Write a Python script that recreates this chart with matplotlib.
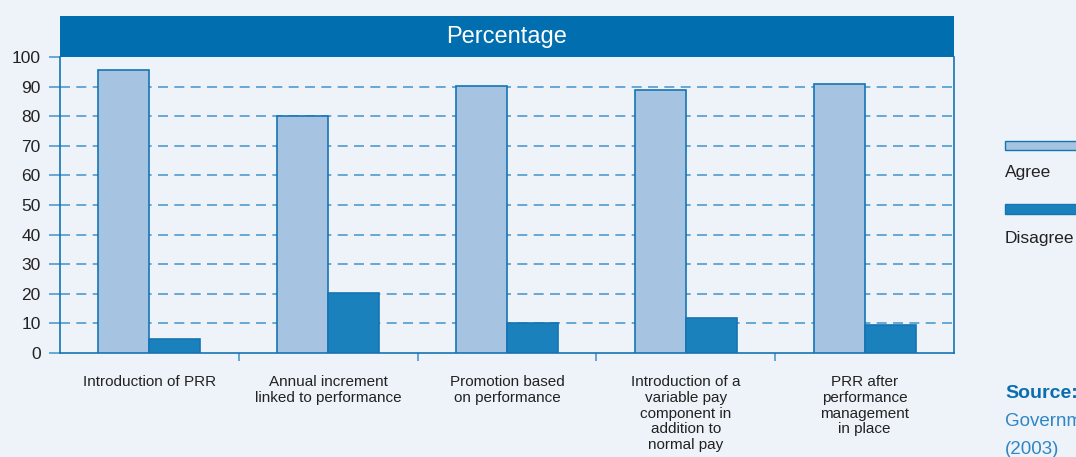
import numpy as np
import matplotlib.pyplot as plt
from matplotlib.patches import Rectangle

plt.rcParams['font.family'] = ['Liberation Sans', 'DejaVu Sans']

categories = [
    'Introduction of PRR',
    'Annual increment\nlinked to performance',
    'Promotion based\non performance',
    'Introduction of a\nvariable pay\ncomponent in\naddition to\nnormal pay',
    'PRR after\nperformance\nmanagement\nin place',
]
agree = [95.6, 80.0, 90.2, 88.7, 91.0]
disagree = [4.7, 20.2, 10.0, 11.7, 9.5]

BG = '#EEF3F9'
LIGHT = '#A6C4E1'
DARK = '#1B81BC'
EDGE = '#1674B3'
HEADER = '#006EAF'
GRID = '#4F9BD0'

fig = plt.figure(figsize=(10.76, 4.57), dpi=100, facecolor=BG)
ax = fig.add_axes([60 / 1076, 1 - 353 / 457, 894 / 1076, 296 / 457])
ax.set_facecolor(BG)

x = np.arange(len(categories)) + 0.5
w = 0.285
ax.bar(x - w / 2, agree, w, color=LIGHT, edgecolor=EDGE, linewidth=1.2, zorder=3)
ax.bar(x + w / 2, disagree, w, color=DARK, edgecolor=EDGE, linewidth=1.2, zorder=3)

ax.set_xlim(0, len(categories))
ax.set_ylim(0, 100)
ax.set_yticks(np.arange(0, 101, 10))
for v in range(10, 100, 10):
    ax.axhline(v, color=GRID, linewidth=1.2, dashes=(6, 3.8), zorder=1)

ax.set_xticks(x)
ax.set_xticklabels(categories, fontsize=11, color='#222222', linespacing=1.15,
                   va='top')
ax.set_xticks(np.arange(1, len(categories)), minor=True)
ax.tick_params(axis='x', which='major', length=0, pad=16)
ax.tick_params(axis='x', which='minor', length=6, color='#4A9AD0', width=1.2)
ax.tick_params(axis='y', length=8, color=GRID, width=1.2, pad=6,
               labelsize=12.5, labelcolor='#222222')

for s in ['left', 'bottom', 'right']:
    ax.spines[s].set_color(EDGE)
    ax.spines[s].set_linewidth(1.2)
ax.spines['top'].set_visible(False)

# header band
hx = fig.add_axes([60 / 1076, 1 - 57 / 457, 894 / 1076, 41 / 457])
hx.set_facecolor(HEADER)
hx.set_xticks([])
hx.set_yticks([])
for s in hx.spines.values():
    s.set_visible(False)
hx.text(0.5, 0.5, 'Percentage', color='white', fontsize=17,
        ha='center', va='center', transform=hx.transAxes)

# legend at the right edge
fig.patches.append(Rectangle((1005 / 1076, 1 - 150 / 457), 80 / 1076, 9 / 457,
                             transform=fig.transFigure, facecolor=LIGHT,
                             edgecolor=EDGE, linewidth=1.0))
fig.text(1005 / 1076, 1 - 173 / 457, 'Agree', fontsize=12.5, color='#222222',
         va='center', ha='left')
fig.patches.append(Rectangle((1005 / 1076, 1 - 214 / 457), 80 / 1076, 10 / 457,
                             transform=fig.transFigure, facecolor=DARK,
                             edgecolor=EDGE, linewidth=1.0))
fig.text(1005 / 1076, 1 - 238 / 457, 'Disagree', fontsize=12.5, color='#222222',
         va='center', ha='left')

fig.text(1005 / 1076, 1 - 394 / 457, 'Source:', fontsize=14, color='#0A6DB0',
         fontweight='bold', va='center', ha='left')
fig.text(1005 / 1076, 1 - 422 / 457, 'Government', fontsize=13.5, color='#2F86C6',
         va='center', ha='left')
fig.text(1005 / 1076, 1 - 449 / 457, '(2003)', fontsize=13.5, color='#2F86C6',
         va='center', ha='left')

fig.savefig('out.png', dpi=100, facecolor=BG)
